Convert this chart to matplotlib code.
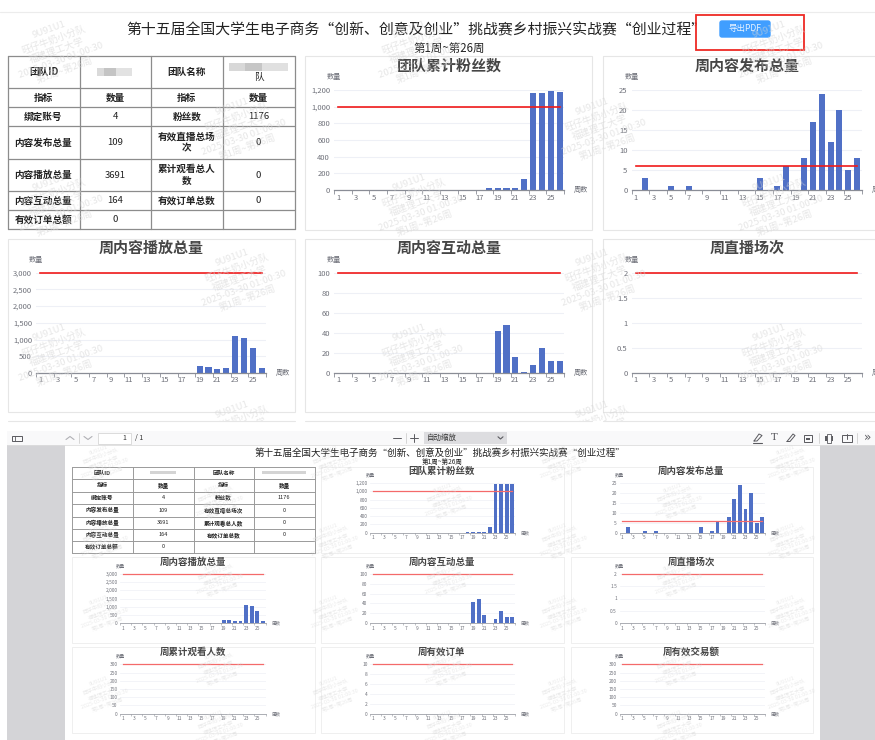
import matplotlib
matplotlib.use("Agg")
import matplotlib.pyplot as plt
from matplotlib.patches import Rectangle, FancyBboxPatch

plt.rcParams['font.family'] = ['Noto Sans CJK SC', 'DejaVu Sans']

W, H = 875, 740
PX = 0.72  # points per pixel at dpi 100

main_title = "第十五届全国大学生电子商务“创新、创意及创业”挑战赛乡村振兴实战赛“创业过程”"
sub_title = "第1周~第26周"
export_label = "导出PDF"
watermark = "9U91U1\n旺仔牛奶小分队\n福建理工大学\n2025-03-30 01:00:30\n第1周~第26周"

weeks = list(range(1, 27))
week_ticks = [str(w) for w in weeks if w % 2 == 1]

fans = [0]*17 + [20, 25, 25, 25, 130, 1164, 1164, 1184, 1176]
posts = [0, 3, 0, 0, 1, 0, 1, 0, 0, 0, 0, 0, 0, 0, 3, 0, 1, 6, 0, 8, 17, 24, 12, 20, 5, 8]
plays = [0]*18 + [205, 175, 125, 155, 1110, 1045, 735, 135]
inter = [0]*18 + [42, 48, 16, 1, 8, 25, 12, 12]
lives = [0]*26
viewers = [0]*26
orders = [0]*26
amount = [0]*26

titles = ["团队累计粉丝数", "周内容发布总量", "周内容播放总量", "周内容互动总量",
          "周直播场次", "周累计观看人数", "周有效订单", "周有效交易额"]
series = [fans, posts, plays, inter, lives, viewers, orders, amount]
targets = [1000, 6, 3000, 100, 2, 300, 10, 300]
yticks = [[0, 200, 400, 600, 800, 1000, 1200], [0, 5, 10, 15, 20, 25],
          [0, 500, 1000, 1500, 2000, 2500, 3000], [0, 20, 40, 60, 80, 100],
          [0, 0.5, 1, 1.5, 2], [0, 50, 100, 150, 200, 250, 300],
          [0, 2, 4, 6, 8, 10], [0, 50, 100, 150, 200, 250, 300]]

table_rows = [
    ["团队ID", "", "团队名称", "\n队"],
    ["指标", "数量", "指标", "数量"],
    ["绑定账号", "4", "粉丝数", "1176"],
    ["内容发布总量", "109", "有效直播总场\n次", "0"],
    ["内容播放总量", "3691", "累计观看总人\n数", "0"],
    ["内容互动总量", "164", "有效订单总数", "0"],
    ["有效订单总额", "0", "", ""],
]
pdf_rows = [list(r) for r in table_rows]
pdf_rows[0][3] = ""
pdf_rows[3][2] = "有效直播总场次"
pdf_rows[4][2] = "累计观看总人数"

fig = plt.figure(figsize=(W/100, H/100), dpi=100, facecolor='white')


def overlay(z):
    a = fig.add_axes([0, 0, 1, 1], zorder=z)
    a.set_xlim(0, W)
    a.set_ylim(H, 0)
    a.axis('off')
    a.patch.set_alpha(0)
    return a


bg = overlay(0)
top = overlay(5)


def rect(a, x0, y0, x1, y1, fc='none', ec='none', lw=0.8, z=1, **kw):
    a.add_patch(Rectangle((x0, y0), x1-x0, y1-y0, fc=fc, ec=ec, lw=lw, zorder=z, **kw))


def line(a, xs, ys, c='#555555', lw=0.8, z=3):
    a.plot(xs, ys, color=c, lw=lw, zorder=z, solid_capstyle='round')


def chart(box, title, tx, ty, values, target, ticks, s=1.0, red='#f01a1a', redlw=1.2):
    x0, y0, x1, y1 = box
    ax = fig.add_axes([x0/W, 1-y0/H, (x1-x0)/W, (y0-y1)/H], zorder=2)
    ax.patch.set_alpha(0)
    ax.bar(range(26), values, width=0.68, color='#5070c6', zorder=2)
    ax.plot([0, 25], [target, target], color=red, lw=redlw, zorder=3, clip_on=False)
    ax.set_xlim(-0.5, 25.5)
    ax.set_ylim(0, max(ticks))
    for sp in ['top', 'left', 'right']:
        ax.spines[sp].set_visible(False)
    ax.spines['bottom'].set_color('#8a8d96')
    ax.spines['bottom'].set_linewidth(0.9*s if s > 0.7 else 0.5)
    ax.set_yticks(ticks)
    ax.set_yticklabels([f"{t:,}" for t in ticks])
    ax.yaxis.grid(True, color='#eef0f6', lw=0.8 if s > 0.7 else 0.5)
    ax.set_axisbelow(True)
    ax.tick_params(axis='y', length=0, labelsize=7.6*PX*s, labelcolor='#6e7079', pad=4*PX*s)
    ax.set_xticks([i-0.5 for i in range(0, 27, 2)])
    ax.set_xticklabels([])
    ax.tick_params(axis='x', which='major', length=3.5*PX*s, width=0.6*s, color='#8a8d96')
    ax.set_xticks(list(range(0, 26, 2)), minor=True)
    ax.set_xticklabels(week_ticks, minor=True)
    ax.tick_params(axis='x', which='minor', length=0, labelsize=7.6*PX*s,
                   labelcolor='#6e7079', pad=3.5*PX*s)
    bg.text(tx, ty, title, ha='center', va='center', fontsize=15*PX*s, fontweight='bold',
            color='#464646', zorder=4)
    bg.text(x0, y1-12.5*s, "数量", ha='center', va='center', fontsize=7.2*PX*s, color='#6e7079')
    bg.text(x1+17*s, y0, "周数", ha='center', va='center', fontsize=7.2*PX*s, color='#6e7079')


def table(xs, ys, rows, fs, lc, lw):
    for y in ys:
        line(bg, [xs[0], xs[-1]], [y, y], c=lc, lw=lw)
    for x in xs:
        line(bg, [x, x], [ys[0], ys[-1]], c=lc, lw=lw)
    for i, r in enumerate(rows):
        for j, t in enumerate(r):
            if not t:
                continue
            cx = (xs[j]+xs[j+1])/2
            cy = (ys[i]+ys[i+1])/2
            bold = (not any(ch.isdigit() for ch in t) and t != "\n队")
            bg.text(cx, cy, t, ha='center', va='center', fontsize=fs*PX, color='#222222',
                    fontweight='bold' if bold else 'normal', linespacing=1.25)


# ---- top screenshot ----
line(bg, [0, W], [11.5, 11.5], c='#ececec', lw=0.8)
bg.text(416, 30, main_title, ha='center', va='center', fontsize=14.85*PX, color='#222222')
bg.text(449, 48.5, sub_title, ha='center', va='center', fontsize=11.5*PX, color='#222222')
bg.add_patch(FancyBboxPatch((720, 21), 50, 16, boxstyle="round,pad=0,rounding_size=2",
                            fc='#409eff', ec='#409eff', lw=1, zorder=2))
bg.text(745, 29, export_label, ha='center', va='center', fontsize=8.5*PX, color='#e8f3ff', zorder=3)
rect(bg, 696, 14.5, 804, 50, ec='#ee2a24', lw=1.3, z=3)

table([7.5, 79.5, 151, 222.5, 294.5],
      [56, 88.3, 107.3, 126.3, 159.3, 191.3, 210.3, 229.3],
      table_rows, 9.6, '#8c8c8c', 0.9)
# blurred identifiers
for xa, xb, c in [(97, 104, '#dadada'), (104, 116, '#c4c4c4'), (116, 132, '#e2e2e2')]:
    rect(bg, xa, 68, xb, 76, fc=c, z=2)
for xa, xb, c in [(229, 245, '#d8d8d8'), (245, 262, '#c6c6c6'), (262, 288, '#e0e0e0')]:
    rect(bg, xa, 63, xb, 71, fc=c, z=2)

PE = '#e6e6e6'
rect(bg, 304.5, 56, 592, 229.5, ec=PE)
rect(bg, 602.5, 56, 900, 229.5, ec=PE)
rect(bg, 7.5, 238.5, 294.5, 412, ec=PE)
rect(bg, 304.5, 238.5, 592, 412, ec=PE)
rect(bg, 602.5, 238.5, 900, 412, ec=PE)
for xa, xb in [(7.5, 294.5), (304.5, 592), (602.5, W)]:
    line(bg, [xa, xb], [421, 421], c=PE, lw=0.8)

ups = [((334, 190, 564, 90), 449, 65.5), ((631.5, 190, 861.5, 90), 747, 65.5),
       ((36, 373, 266, 272.7), 151, 248), ((334, 373, 564, 272.7), 449, 248),
       ((631.5, 373, 861.5, 272.7), 747, 248)]
for k, (b, tx, ty) in enumerate(ups):
    chart(b, titles[k], tx, ty, series[k], targets[k], yticks[k], s=1.0)

# ---- pdf viewer ----
rect(bg, 7, 431, W, 445, fc='#f9f9fa', z=0.5)
line(bg, [7, W], [445, 445], c='#dddddd', lw=0.6, z=1)
rect(bg, 7, 445, W, H, fc='#d4d4d7', z=0.5)
rect(bg, 65, 445, 820, H, fc='white', z=0.6)

IC = '#5a5a5f'
rect(bg, 12, 435.5, 22, 441, ec=IC, lw=0.7, z=3)
line(bg, [15, 15], [435.5, 441], c=IC, lw=0.6)
line(bg, [66, 70, 74], [439.5, 436.5, 439.5], c='#b0b0b5')
line(bg, [79, 79], [433, 443], c='#d0d0d0', lw=0.6)
line(bg, [84, 88, 92], [436.5, 439.5, 436.5], c='#b0b0b5')
rect(bg, 98, 432.5, 131, 443.5, fc='white', ec='#d6d6d6', lw=0.6, z=2)
bg.text(124, 438, "1", ha='center', va='center', fontsize=7*PX, color='#333333', zorder=4)
bg.text(139, 438, "/ 1", ha='center', va='center', fontsize=7*PX, color='#333333', zorder=4)
line(bg, [393, 401], [438, 438], c=IC, lw=0.7)
line(bg, [406, 406], [433, 443], c='#d0d0d0', lw=0.6)
line(bg, [410, 418], [438, 438], c=IC, lw=0.7)
line(bg, [414, 414], [434, 442], c=IC, lw=0.7)
rect(bg, 424, 432, 507, 444, fc='#dddde0', z=2)
bg.text(427, 438, "自动缩放", ha='left', va='center', fontsize=7.5*PX, color='#333333', zorder=4)
line(bg, [498, 500.5, 503], [436.8, 439, 436.8], c=IC)
# right toolbar icons
line(bg, [753, 762], [442.5, 442.5], c=IC)
line(bg, [754, 757, 762, 759, 754], [441, 441, 435.5, 434, 441], c=IC, lw=0.7)
bg.text(774, 438, "T", ha='center', va='center', fontsize=10*PX, color=IC, family='DejaVu Serif', zorder=4)
line(bg, [787, 790, 795, 793, 787], [441.5, 441.5, 435.5, 434, 441.5], c=IC, lw=0.7)
rect(bg, 804, 434.5, 812, 441.5, ec=IC, lw=0.7, z=3)
rect(bg, 806, 437.5, 810, 439.5, fc=IC, z=3)
line(bg, [819, 819], [433, 443], c='#d0d0d0', lw=0.6)
rect(bg, 825, 436, 833, 441, fc=IC, z=3)
rect(bg, 827, 434, 831, 443, fc='#f9f9fa', ec=IC, lw=0.6, z=4)
rect(bg, 842, 435, 852, 441.5, ec=IC, lw=0.7, z=3)
line(bg, [847, 847], [434, 439], c=IC, lw=0.7)
line(bg, [857, 857], [433, 443], c='#d0d0d0', lw=0.6)
bg.text(868, 437.5, "»", ha='center', va='center', fontsize=12*PX, color=IC, family='DejaVu Sans', zorder=4)

bg.text(440, 453.5, main_title, ha='center', va='center', fontsize=9.55*PX, color='#222222', zorder=4)
bg.text(442, 462, sub_title, ha='center', va='center', fontsize=6.6*PX, color='#222222', zorder=4)

table([72, 132.5, 193.5, 254, 314.5],
      [466.7, 479.3, 491.7, 504, 516.7, 529, 541, 552.7],
      pdf_rows, 5.6, '#9a9a9a', 0.7)
for xa, xb, yy in [(150, 176, 472), (262, 306, 472)]:
    rect(bg, xa, yy-1.5, xb, yy+2, fc='#d4d4d4', z=2)

PP = '#ececec'
rect(bg, 320.5, 466.7, 564, 552.7, ec=PP, lw=0.6)
rect(bg, 570.5, 466.7, 813, 552.7, ec=PP, lw=0.6)
for ya, yb in [(557.3, 642.7), (647.3, 733.3)]:
    rect(bg, 72, ya, 314.5, yb, ec=PP, lw=0.6)
    rect(bg, 321, ya, 564, yb, ec=PP, lw=0.6)
    rect(bg, 570.5, ya, 813, yb, ec=PP, lw=0.6)

pdfs = [((370, 532.7, 515, 483), 442, 471), ((619.5, 532.7, 765, 483), 691.5, 471),
        ((120, 623.3, 265.7, 573.7), 193, 561.7), ((370, 623.3, 515, 573.7), 442, 561.7),
        ((619.5, 623.3, 765, 573.7), 691.5, 561.7), ((120, 713.7, 265.7, 664.3), 193, 652),
        ((370, 713.7, 515, 664.3), 442, 652), ((619.5, 713.7, 765, 664.3), 691.5, 652)]
for k, (b, tx, ty) in enumerate(pdfs):
    chart(b, titles[k], tx, ty, series[k], targets[k], yticks[k], s=0.63, red='#f46a6a', redlw=0.9)

# ---- watermarks ----
clip_top = Rectangle((0, 12), W, 409, transform=top.transData)
clip_pdf = Rectangle((65, 445), 755, 295, transform=top.transData)
top_marks = [(x, y) for y in (50, 203, 353) for x in (57, 417, 777)] + \
            [(x, y) for y in (127, 278, 430) for x in (240, 600)]
pdf_marks = [(x, y) for y in (462, 540, 612, 693) for x in (103, 333, 562, 790)] + \
            [(x, y) for y in (500, 578, 667, 727) for x in (218, 447, 677)]
for x, y in top_marks:
    t = top.text(x, y, watermark, ha='center', va='center', rotation=20, fontsize=9.6*PX,
                 color='#d6d6d6', alpha=0.6, linespacing=1.2, multialignment='center',
                 rotation_mode='anchor', fontweight='light')
    t.set_clip_path(clip_top)
    t.set_clip_on(True)
for x, y in pdf_marks:
    t = top.text(x, y, watermark, ha='center', va='center', rotation=20, fontsize=5.4*PX,
                 color='#dadada', alpha=0.55, linespacing=1.2, multialignment='center',
                 rotation_mode='anchor', fontweight='light')
    t.set_clip_path(clip_pdf)
    t.set_clip_on(True)

fig.savefig("out.png", dpi=100)
